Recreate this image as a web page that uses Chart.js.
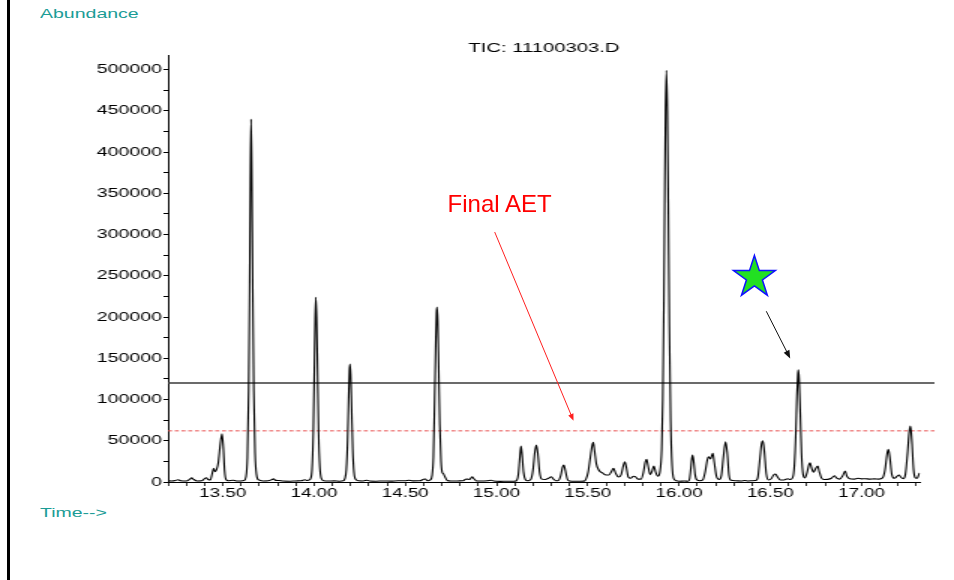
<!DOCTYPE html>
<html>
<head>
<meta charset="utf-8">
<script src="https://cdn.jsdelivr.net/npm/chart.js@4/dist/chart.umd.min.js"></script>
<style>
  html, body { margin: 0; padding: 0; background: #fff; }
  #page { position: relative; width: 954px; height: 580px; overflow: hidden; font-family: 'Liberation Sans', Arial, sans-serif; }
  /* the printout is horizontally stretched, so the chart is drawn narrow and widened */
  #stretch { position: absolute; left: 0; top: 0; width: 636px; height: 580px; transform: scaleX(1.5); transform-origin: 0 0; }
  #overlay { position: absolute; left: 0; top: 0; pointer-events: none; }
  .frame { position: absolute; left: 7px; top: 0; width: 3px; height: 580px; background: #000; }
  .axis-note { position: absolute; left: 40px; color: #1b9c96; font-size: 13px; line-height: 1; white-space: nowrap; transform: scaleX(1.5); transform-origin: 0 50%; }
  #aetLabel { position: absolute; color: #ff0000; font-size: 24px; line-height: 1; white-space: nowrap; transform: translate(-50%, -50%); }
</style>
</head>
<body>
<div id="page">
  <div class="frame"></div>
  <div class="axis-note" style="top: 7px;">Abundance</div>
  <div class="axis-note" style="top: 506px;">Time--&gt;</div>
  <div id="stretch"><canvas id="tic" width="636" height="580"></canvas></div>
  <canvas id="overlay" width="954" height="580"></canvas>
  <div id="aetLabel">Final AET</div>
</div>
<script>
const STRETCH = 1.5;

// retention time (min), abundance
const ticTrace = [
  [13.200, 1500], [13.220, 1200], [13.240, 1800], [13.255, 2800], [13.270, 1500],
  [13.300, 1200], [13.320, 3500], [13.330, 5000], [13.340, 3200], [13.360, 1300],
  [13.385, 1500], [13.400, 4000], [13.410, 5200], [13.420, 3000], [13.432, 2500],
  [13.442, 10000], [13.450, 16500], [13.458, 12500], [13.466, 15000], [13.476, 24000],
  [13.486, 45000], [13.496, 58500], [13.503, 42000], [13.510, 14000], [13.518, 3000],
  [13.530, 1500], [13.555, 2200], [13.575, 1200], [13.600, 1300], [13.617, 1800],
  // 13.65
  [13.627, 6000], [13.635, 30000], [13.642, 110000], [13.647, 230000], [13.651, 360000],
  [13.655, 440000], [13.659, 380000], [13.664, 240000], [13.670, 110000], [13.677, 35000],
  [13.685, 9000], [13.697, 2500], [13.720, 1300], [13.750, 1500], [13.770, 3000],
  [13.778, 3800], [13.790, 2000], [13.808, 1800], [13.830, 1200], [13.870, 1000],
  [13.900, 1300], [13.930, 1500], [13.950, 2800], [13.962, 1800], [13.975, 2500],
  // 14.01
  [13.981, 4000], [13.989, 15000], [13.996, 60000], [14.002, 140000], [14.006, 195000],
  [14.010, 224000], [14.014, 200000], [14.019, 140000], [14.025, 60000], [14.032, 18000],
  [14.041, 4000], [14.053, 1500], [14.080, 1200], [14.110, 1400], [14.140, 1000],
  [14.160, 1500],
  // 14.20
  [14.169, 4000], [14.177, 15000], [14.184, 50000], [14.190, 105000], [14.194, 135000],
  [14.197, 143000], [14.201, 130000], [14.206, 90000], [14.212, 40000], [14.219, 12000],
  [14.229, 3000], [14.245, 1500], [14.270, 1300], [14.290, 2200], [14.305, 1200],
  [14.340, 1000], [14.380, 1300], [14.420, 1100], [14.460, 1500], [14.500, 1600],
  [14.520, 2200], [14.540, 1400], [14.580, 1500], [14.600, 3200], [14.610, 3600],
  [14.622, 1500], [14.637, 2500],
  // 14.67
  [14.647, 8000], [14.654, 30000], [14.661, 100000], [14.667, 170000], [14.671, 205000],
  [14.674, 212000], [14.678, 195000], [14.683, 140000], [14.689, 70000], [14.696, 25000],
  [14.702, 12000], [14.709, 10000], [14.718, 6000], [14.730, 1800], [14.750, 1200],
  [14.790, 1300], [14.815, 1500], [14.830, 3200], [14.840, 3500], [14.852, 3000],
  [14.866, 6200], [14.876, 4000], [14.890, 1300], [14.920, 1200], [14.950, 1600],
  [14.970, 2200], [14.985, 1200], [15.020, 800], [15.060, 900], [15.100, 1000],
  // 15.13 - 15.37
  [15.112, 2500], [15.120, 10000], [15.127, 28000], [15.134, 43500], [15.140, 33000],
  [15.148, 12000], [15.158, 3000], [15.170, 1500], [15.180, 2000], [15.190, 4000],
  [15.200, 15000], [15.210, 36000], [15.218, 44800], [15.226, 35000], [15.236, 12000],
  [15.248, 3500], [15.265, 3000], [15.285, 4500], [15.300, 6400], [15.312, 3500],
  [15.325, 1500], [15.340, 2000], [15.352, 8000], [15.362, 18000], [15.369, 20500],
  [15.377, 14000], [15.388, 3500], [15.400, 1200], [15.430, 900], [15.460, 900],
  [15.480, 1100],
  // 15.53 - 15.88
  [15.490, 3500], [15.502, 12000], [15.514, 30000], [15.524, 44000], [15.530, 48000],
  [15.537, 38000], [15.547, 22000], [15.558, 15500], [15.568, 12500], [15.580, 11000],
  [15.600, 8500], [15.615, 8500], [15.628, 12000], [15.641, 16500], [15.652, 11000],
  [15.668, 6000], [15.683, 9000], [15.695, 20000], [15.703, 24600], [15.711, 18000],
  [15.722, 6000], [15.735, 4500], [15.750, 7000], [15.760, 6500], [15.775, 3500],
  [15.792, 3500], [15.805, 12000], [15.815, 24000], [15.822, 27500], [15.830, 20000],
  [15.842, 9000], [15.852, 13000], [15.862, 19400], [15.872, 12000], [15.884, 7000],
  // 15.93
  [15.895, 12000], [15.905, 40000], [15.911, 100000], [15.917, 220000], [15.922, 360000],
  [15.926, 450000], [15.931, 499000], [15.936, 450000], [15.941, 340000], [15.947, 190000],
  [15.954, 75000], [15.962, 20000], [15.971, 4000], [15.985, 1500], [16.000, 1000],
  [16.030, 1200],
  // 16.07 - 16.53
  [16.050, 1000], [16.058, 4000], [16.064, 15000], [16.070, 28000], [16.074, 32700],
  [16.080, 26000], [16.088, 9000], [16.098, 2500], [16.115, 1500], [16.130, 2500],
  [16.143, 12000], [16.155, 27000], [16.162, 30600], [16.172, 28000], [16.185, 34700],
  [16.193, 24000], [16.205, 7000], [16.220, 3000], [16.232, 8000], [16.244, 32000],
  [16.255, 48800], [16.264, 36000], [16.274, 8000], [16.285, 2000], [16.310, 1500],
  [16.340, 1200], [16.360, 1800], [16.380, 1300], [16.400, 1600], [16.420, 1800],
  [16.432, 6000], [16.444, 30000], [16.452, 46000], [16.459, 50000], [16.467, 38000],
  [16.478, 10000], [16.490, 2500], [16.505, 4000], [16.518, 8500], [16.528, 9700],
  [16.540, 6000], [16.555, 2500], [16.575, 2500], [16.596, 4000], [16.608, 3000],
  // 16.65
  [16.622, 5000], [16.632, 20000], [16.640, 60000], [16.646, 105000], [16.651, 130000],
  [16.654, 136000], [16.658, 125000], [16.664, 85000], [16.671, 35000], [16.680, 9000],
  [16.690, 5000], [16.702, 12000], [16.712, 21000], [16.718, 23400], [16.725, 18000],
  [16.737, 12000], [16.748, 16000], [16.760, 19400], [16.768, 13000], [16.780, 5000],
  [16.795, 3000], [16.815, 3200], [16.835, 4500], [16.852, 7600], [16.862, 5000],
  [16.880, 3500], [16.898, 8000], [16.910, 13300], [16.920, 7000], [16.935, 4000],
  [16.960, 3500], [16.980, 4500], [17.000, 3800], [17.020, 4000], [17.045, 3500],
  [17.070, 3800], [17.095, 3500], [17.115, 5000],
  // 17.15 - end
  [17.128, 14000], [17.140, 34000], [17.147, 39600], [17.155, 30000], [17.166, 9000],
  [17.180, 4500], [17.195, 7000], [17.205, 8500], [17.215, 6000], [17.228, 4000],
  [17.240, 9000], [17.252, 35000], [17.262, 62000], [17.268, 67800], [17.275, 52000],
  [17.285, 15000], [17.295, 5000], [17.305, 4500], [17.312, 8000], [17.318, 11000]
];

const timeRange = [13.20, 17.32];
const abundanceRange = [0, 517000];
// tick marks; labels only on the half-minute and 50000 ones
const timeTicks = [
  13.2, 13.3, 13.4, 13.5, 13.6, 13.7, 13.8, 13.9, 14.0, 14.1, 14.2, 14.3, 14.4, 14.5,
  14.6, 14.7, 14.8, 14.9, 15.0, 15.1, 15.2, 15.3, 15.4, 15.5, 15.6, 15.7, 15.8, 15.9,
  16.0, 16.1, 16.2, 16.3, 16.4, 16.5, 16.6, 16.7, 16.8, 16.9, 17.0, 17.1, 17.2, 17.3
];
const timeLabels = [13.5, 14.0, 14.5, 15.0, 15.5, 16.0, 16.5, 17.0];
const abundanceTicks = [
  0, 25000, 50000, 75000, 100000, 125000, 150000, 175000, 200000, 225000, 250000,
  275000, 300000, 325000, 350000, 375000, 400000, 425000, 450000, 475000, 500000
];
const abundanceLabels = [0, 50000, 100000, 150000, 200000, 250000, 300000, 350000, 400000, 450000, 500000];

const levelSolid = 120000;
const levelDashed = 62000;
const levelLineSpan = [13.20, 17.40];

// annotations, in data units
const aetLabelAt = [15.017, 336500];
const aetArrow = [[14.990, 303000], [15.422, 74200]];
const starAt = [16.413, 248000];
const peakArrow = [[16.478, 207000], [16.609, 149800]];

const hasValue = (list, v) => list.some(u => Math.abs(u - v) < 1e-6);

function drawArrow(ctx, a, b, color, head) {
  const ang = Math.atan2(b[1] - a[1], b[0] - a[0]);
  const c = Math.cos(ang), s = Math.sin(ang);
  ctx.strokeStyle = color;
  ctx.fillStyle = color;
  ctx.lineWidth = 1;
  ctx.beginPath();
  ctx.moveTo(a[0], a[1]);
  ctx.lineTo(b[0] - c * head * 0.6, b[1] - s * head * 0.6);
  ctx.stroke();
  ctx.beginPath();
  ctx.moveTo(b[0], b[1]);
  ctx.lineTo(b[0] - head * c + head * 0.4 * s, b[1] - head * s - head * 0.4 * c);
  ctx.lineTo(b[0] - head * c - head * 0.4 * s, b[1] - head * s + head * 0.4 * c);
  ctx.closePath();
  ctx.fill();
}

function drawStar(ctx, cx, cy, R) {
  const r = R * 0.382;
  ctx.beginPath();
  for (let i = 0; i < 10; i++) {
    const rad = i % 2 ? r : R;
    const a = -Math.PI / 2 + i * Math.PI / 5;
    const px = cx + rad * Math.cos(a);
    const py = cy + rad * Math.sin(a);
    if (i === 0) ctx.moveTo(px, py); else ctx.lineTo(px, py);
  }
  ctx.closePath();
  ctx.fillStyle = '#22e022';
  ctx.fill();
  ctx.strokeStyle = '#1010ff';
  ctx.lineWidth = 1.5;
  ctx.stroke();
}

// star, arrows and label sit on an unstretched layer, placed through the chart scales
const annotationLayer = {
  id: 'annotationLayer',
  afterDraw(chart) {
    const xs = chart.scales.x;
    const ys = chart.scales.y;
    const toPage = (p) => [xs.getPixelForValue(p[0]) * STRETCH, ys.getPixelForValue(p[1])];
    const ctx = document.getElementById('overlay').getContext('2d');
    ctx.clearRect(0, 0, 954, 580);

    drawArrow(ctx, toPage(aetArrow[0]), toPage(aetArrow[1]), '#ff2020', 7);
    drawArrow(ctx, toPage(peakArrow[0]), toPage(peakArrow[1]), '#111111', 8);
    const st = toPage(starAt);
    drawStar(ctx, st[0], st[1], 22);

    const lbl = toPage(aetLabelAt);
    const el = document.getElementById('aetLabel');
    el.style.left = lbl[0] + 'px';
    el.style.top = lbl[1] + 'px';
  }
};

Chart.defaults.font.family = "'Liberation Sans', Arial, sans-serif";
Chart.defaults.color = '#000';

new Chart(document.getElementById('tic'), {
  type: 'line',
  data: {
    datasets: [
      {
        label: 'TIC',
        data: ticTrace.map(p => ({ x: p[0], y: p[1] })),
        borderColor: '#000',
        borderWidth: 1.1,
        pointRadius: 0,
        cubicInterpolationMode: 'monotone',
        fill: false,
        order: 0
      },
      {
        label: 'level',
        data: levelLineSpan.map(t => ({ x: t, y: levelSolid })),
        borderColor: '#3a3a3a',
        borderWidth: 1.3,
        pointRadius: 0,
        clip: false,
        order: 1
      },
      {
        label: 'level dashed',
        data: levelLineSpan.map(t => ({ x: t, y: levelDashed })),
        borderColor: 'rgba(230, 60, 60, 0.9)',
        borderWidth: 1,
        borderDash: [2.7, 1.8],
        pointRadius: 0,
        clip: false,
        order: 2
      }
    ]
  },
  options: {
    responsive: false,
    animation: false,
    events: [],
    layout: { padding: { left: 0, right: 636 - 613.3, top: 0, bottom: 0 } },
    plugins: {
      legend: { display: false },
      tooltip: { enabled: false },
      title: {
        display: true,
        text: 'TIC: 11100303.D',
        fullSize: false,
        align: 'center',
        color: '#000',
        padding: { top: 42, bottom: 0 },
        font: { size: 13.5, weight: 'normal', lineHeight: 1 }
      }
    },
    scales: {
      x: {
        type: 'linear',
        min: timeRange[0],
        max: timeRange[1],
        afterBuildTicks: (scale) => { scale.ticks = timeTicks.map(v => ({ value: v })); },
        afterFit: (scale) => { scale.height = 580 - 482; },
        border: { display: true, color: '#000', width: 1 },
        grid: { drawOnChartArea: false, drawTicks: true, tickLength: 4, tickColor: '#000', tickWidth: 0.8 },
        ticks: {
          autoSkip: false,
          maxRotation: 0,
          padding: 0,
          color: '#000',
          font: { size: 12.5 },
          callback: (v) => hasValue(timeLabels, v) ? Number(v).toFixed(2) : ''
        }
      },
      y: {
        type: 'linear',
        min: abundanceRange[0],
        max: abundanceRange[1],
        afterBuildTicks: (scale) => { scale.ticks = abundanceTicks.map(v => ({ value: v })); },
        afterFit: (scale) => { scale.width = 112; },
        border: { display: true, color: '#000', width: 1 },
        grid: { drawOnChartArea: false, drawTicks: true, tickLength: 3, tickColor: '#000', tickWidth: 1 },
        ticks: {
          autoSkip: false,
          padding: 1,
          color: '#000',
          font: { size: 13 },
          callback: (v) => hasValue(abundanceLabels, v) ? String(v) : ''
        }
      }
    }
  },
  plugins: [annotationLayer]
});
</script>
</body>
</html>
